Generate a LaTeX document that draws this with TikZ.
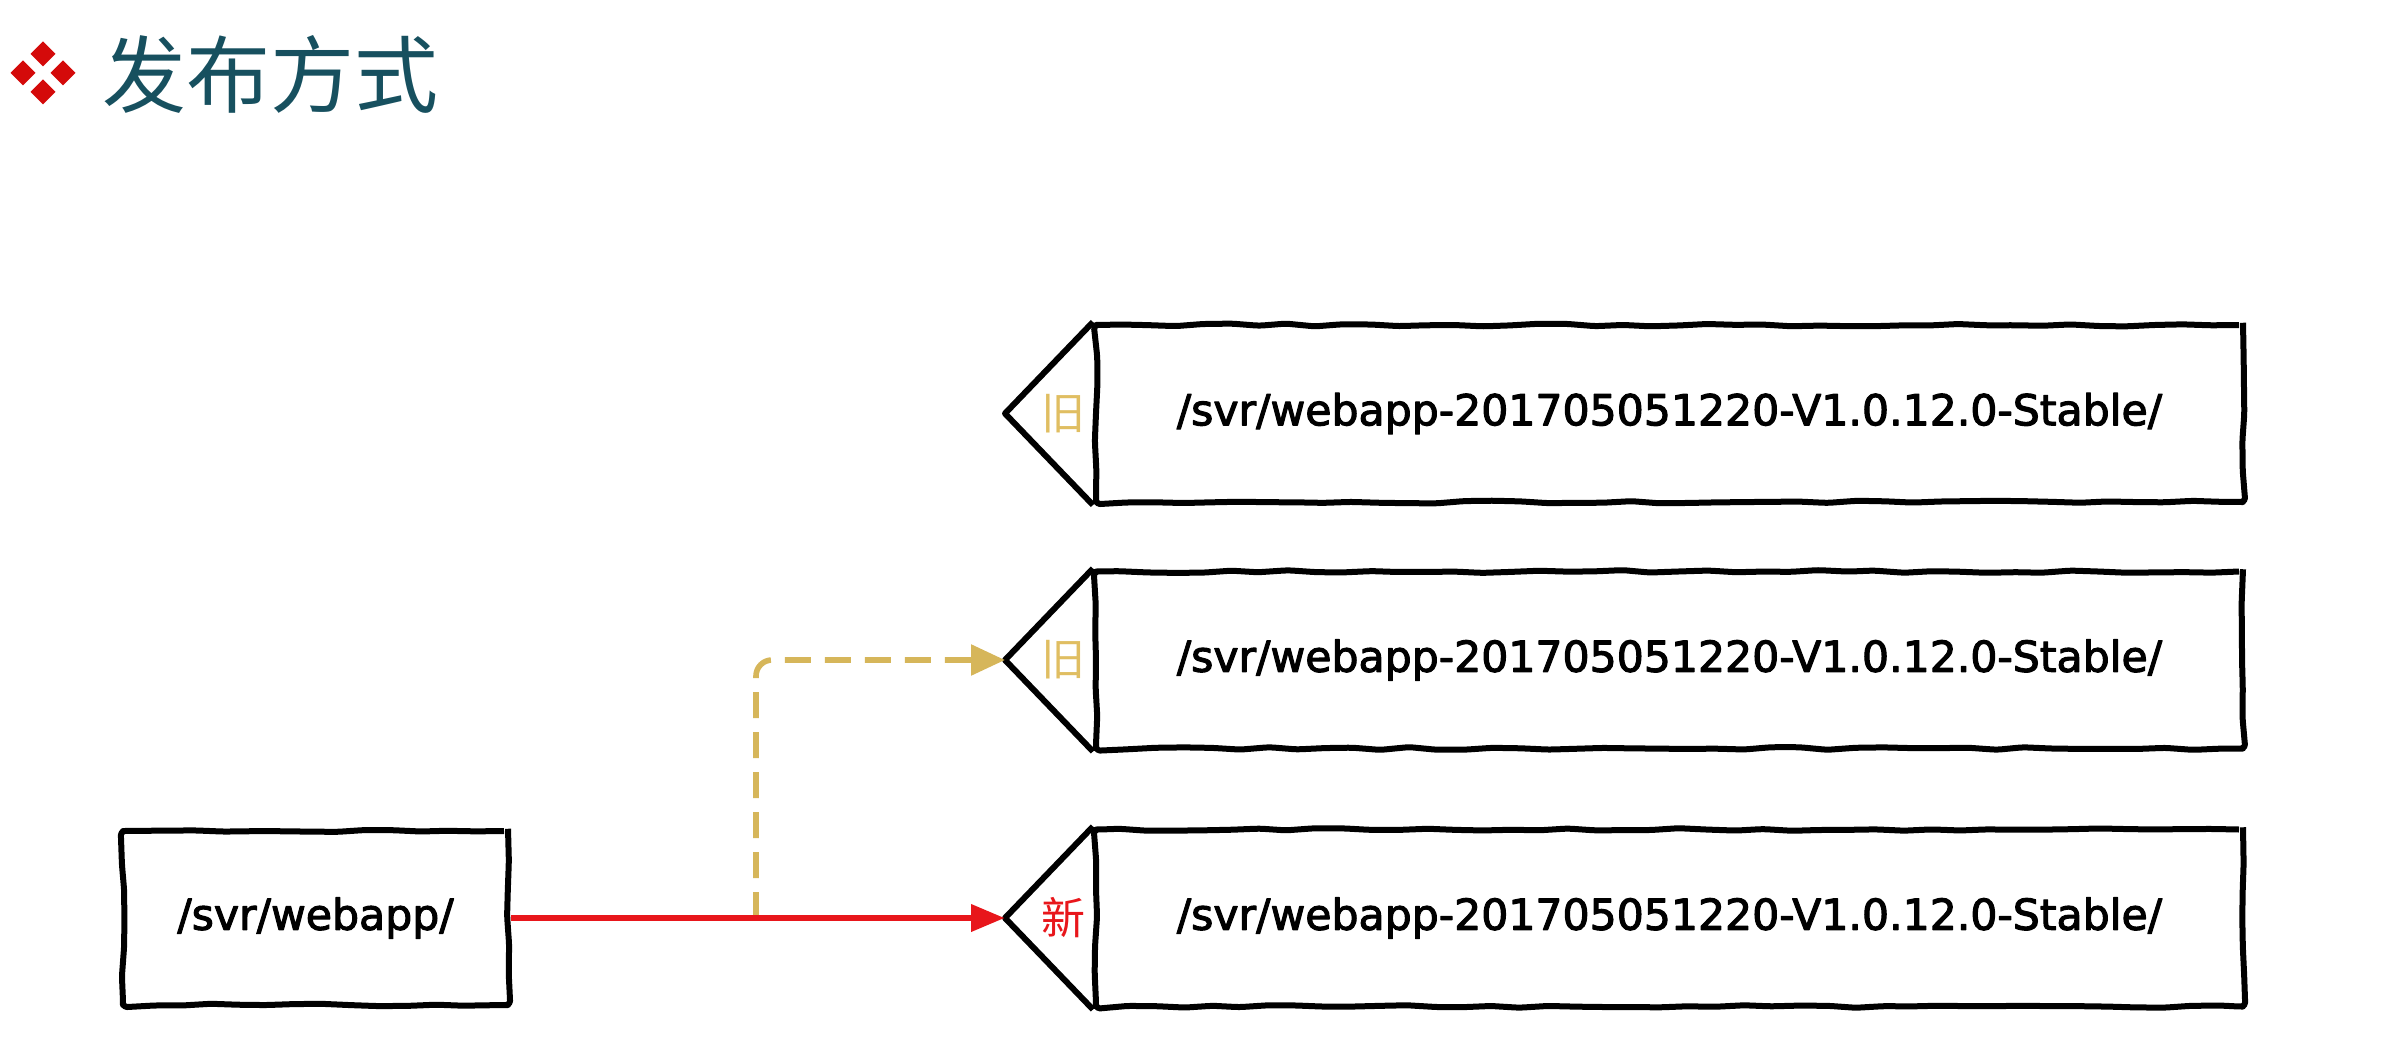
\documentclass[tikz,border=0pt]{standalone}
\usepackage{fontspec}
\setmainfont{DejaVu Sans}
\newfontfamily\hand[FakeBold=2.5]{DejaVu Sans}
\newfontfamily\cjk{Noto Sans CJK SC}
\usetikzlibrary{arrows.meta,decorations.pathmorphing,calc}
\definecolor{oldgold}{HTML}{D6B65A}
\definecolor{oldtxt}{HTML}{E0BE62}
\definecolor{newred}{HTML}{E8161B}
\definecolor{titleteal}{HTML}{17505F}
\definecolor{iconred}{HTML}{D40A0A}
\tikzset{
  sketch/.style={draw=black, line width=3pt, line join=round,
    decorate, decoration={random steps, segment length=14pt, amplitude=0.7pt},
    rounded corners=2pt},
  dirbox/.style={sketch, minimum width=573.5pt, minimum height=88.5pt,
    font=\hand\fontsize{21.3}{25}\selectfont, inner sep=0pt},
  srcbox/.style={sketch, minimum width=192.5pt, minimum height=87pt,
    font=\hand\fontsize{21.3}{25}\selectfont, inner sep=0pt},
  tagline/.style={draw=black, line width=3pt, line join=round},
  taglabel/.style={font=\cjk\fontsize{22}{24}\selectfont, inner sep=0pt},
  newarrow/.style={draw=newred, line width=3.4pt, -{Triangle[length=17pt,width=13pt]}},
  oldarrow/.style={draw=oldgold, line width=2.8pt, dash pattern=on 13pt off 7pt,
    rounded corners=8pt, -{Triangle[length=17pt,width=15pt]}},
  icon/.style={fill=iconred},
}
\begin{document}
\pgfmathsetseed{7}
\begin{tikzpicture}[x=0.5pt, y=-0.5pt]
\useasboundingbox (0,0) rectangle (2384,1038);

% title icon
\foreach \cx/\cy in {43/54, 23/73, 63/73, 43/92}
  \fill[icon] (\cx,\cy-12.5) -- (\cx+12.5,\cy) -- (\cx,\cy+12.5) -- (\cx-12.5,\cy) -- cycle;
\node[anchor=west, inner sep=0pt, text=titleteal, font=\cjk\fontsize{42}{46}\selectfont]
  (title) at (102,74) {发布方式};

% directory boxes
\node[dirbox] (b1) at (1669.5,413.5) {/svr/webapp-201705051220-V1.0.12.0-Stable/};
\node[dirbox] (b2) at (1669.5,660)   {/svr/webapp-201705051220-V1.0.12.0-Stable/};
\node[dirbox] (b3) at (1669.5,918)   {/svr/webapp-201705051220-V1.0.12.0-Stable/};

% tags
\coordinate (t1) at ($(b1.west)+(-88,0)$);
\coordinate (t2) at ($(b2.west)+(-88,0)$);
\coordinate (t3) at ($(b3.west)+(-88,0)$);
\draw[tagline] (b1.north west) -- (t1) -- (b1.south west);
\draw[tagline] (b2.north west) -- (t2) -- (b2.south west);
\draw[tagline] (b3.north west) -- (t3) -- (b3.south west);
\node[taglabel, text=oldtxt] (l1) at ($(b1.west)+(-30,0)$) {旧};
\node[taglabel, text=oldtxt] (l2) at ($(b2.west)+(-30,0)$) {旧};
\node[taglabel, text=newred] (l3) at ($(b3.west)+(-30,0)$) {新};

% source box
\node[srcbox] (s) at (315.5,918) {/svr/webapp/};

% connectors
\coordinate (br) at (756,918);
\draw[oldarrow] (br) |- (t2);
\draw[newarrow] (s.east) -- (t3);
\end{tikzpicture}
\end{document}
